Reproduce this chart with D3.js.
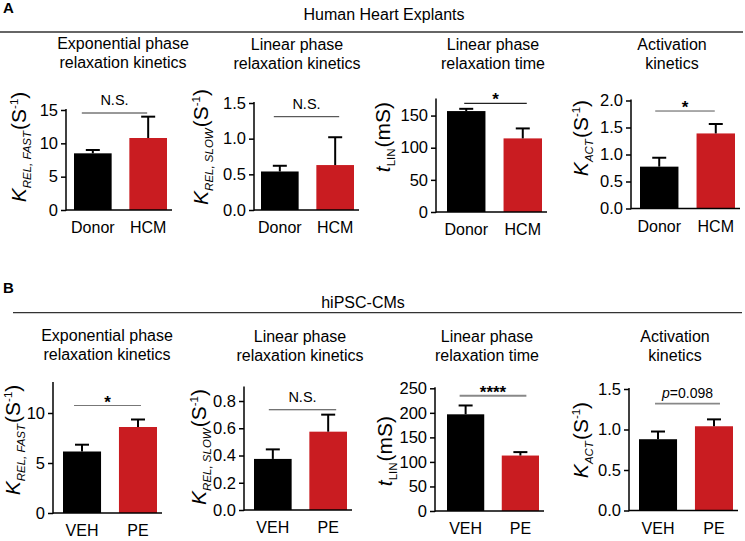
<!DOCTYPE html>
<html>
<head>
<meta charset="utf-8">
<script src="https://cdn.jsdelivr.net/npm/d3@7"></script>
<style>
  html, body { margin: 0; padding: 0; background: #fff; }
  svg { display: block; font-family: "Liberation Sans", Arial, sans-serif; }
</style>
</head>
<body>
<svg id="chart" width="745" height="541"></svg>
<script>
// ---------------- DATA ----------------
const sectionTitles = ["Human Heart Explants", "hiPSC-CMs"];
const sectionLetters = ["A", "B"];

const panelTitlesA = [
  ["Exponential phase", "relaxation kinetics"],
  ["Linear phase", "relaxation kinetics"],
  ["Linear phase", "relaxation time"],
  ["Activation", "kinetics"]
];
const panelTitlesB = panelTitlesA;

const groupsA = ["Donor", "HCM"];
const groupsB = ["VEH", "PE"];

// means and upper SEM for each panel: [group0, group1]
const meansA = [[8.5, 10.8], [0.54, 0.63], [157, 114.5], [0.775, 1.39]];
const errsA  = [[0.5, 3.2], [0.08, 0.39], [3.5, 15.5], [0.165, 0.175]];
const meansB = [[6.15, 8.6], [0.375, 0.575], [197, 113], [0.88, 1.04]];
const errsB  = [[0.68, 0.75], [0.07, 0.125], [18, 7], [0.095, 0.085]];

const domainMaxA = [15, 1.5, 175, 2.0];
const domainMaxB = [13, 0.9, 250, 1.5];
const ticksA = [[0, 5, 10, 15], [0, 0.5, 1.0, 1.5], [0, 50, 100, 150], [0, 0.5, 1.0, 1.5, 2.0]];
const ticksB = [[0, 5, 10], [0, 0.2, 0.4, 0.6, 0.8], [0, 50, 100, 150, 200, 250], [0, 0.5, 1.0, 1.5]];
const tickFmtA = ["d", ".1f", "d", ".1f"];
const tickFmtB = ["d", ".1f", "d", ".1f"];

// significance annotations: label and bracket level (data units)
const sigLabelsA = ["N.S.", "N.S.", "*", "*"];
const sigLevelsA = [14.55, 1.308, 169, 1.805];
const sigLabelsB = ["*", "N.S.", "****", "p=0.098"];
const sigLevelsB = [10.75, 0.736, 235, 1.32];

// y-axis labels
const yLabels = [
  { main: "K", sub: "REL, FAST", subItalic: true, unit: "(S", sup: "-1", close: ")" },
  { main: "K", sub: "REL, SLOW", subItalic: true, unit: "(S", sup: "-1", close: ")" },
  { main: "t", sub: "LIN", subItalic: false, unit: "(mS)", sup: "", close: "" },
  { main: "K", sub: "ACT", subItalic: true, unit: "(S", sup: "-1", close: ")" }
];

// ---------------- LAYOUT ----------------
const layoutA = [
  { ax: 66,  y0: 210,   yTop: 110,   b0: 74,  b1: 167, lx: 26,  ly: 147, tx: 123, t1: 49, sx0: -11, sx1: -1 },
  { ax: 254, y0: 210,   yTop: 103,   b0: 261, b1: 354, lx: 208, ly: 147, tx: 297, t1: 50, sx0: -6,  sx1: 4 },
  { ax: 436, y0: 212,   yTop: 99.5,  b0: 447, b1: 542, lx: 390, ly: 137, tx: 493, t1: 50, sx0: -2,  sx1: 4 },
  { ax: 631, y0: 208.5, yTop: 100.5, b0: 640, b1: 735, lx: 588, ly: 138, tx: 672, t1: 50, sx0: -4,  sx1: -1 }
];
const layoutB = [
  { ax: 53,  y0: 513,   yTop: 383,   b0: 63,  b1: 157, lx: 20,  ly: 440, tx: 107, t1: 341, sx0: -8, sx1: 3 },
  { ax: 244, y0: 510,   yTop: 387.4, b0: 254, b1: 347, lx: 206, ly: 447, tx: 300, t1: 342, sx0: -4, sx1: 8 },
  { ax: 435, y0: 511,   yTop: 388.3, b0: 447, b1: 539, lx: 392, ly: 451, tx: 487, t1: 342, sx0: -6, sx1: 6 },
  { ax: 629, y0: 510.5, yTop: 389,   b0: 639, b1: 733, lx: 588, ly: 440, tx: 675, t1: 342, sx0: -3, sx1: 6 }
];

const colors = ["#000000", "#c91c21"];
const svg = d3.select("#chart");

// ---------------- HEADERS ----------------
function header(letter, title, letterY, titleX, titleY, lineY, lineX0, lineX1) {
  svg.append("text").attr("x", 3).attr("y", letterY)
    .attr("font-weight", "bold").attr("font-size", 15).text(letter);
  svg.append("text").attr("x", titleX).attr("y", titleY)
    .attr("text-anchor", "middle").attr("font-size", 16).text(title);
  svg.append("line").attr("x1", lineX0).attr("x2", lineX1)
    .attr("y1", lineY).attr("y2", lineY)
    .attr("stroke", "#333").attr("stroke-width", 1.3);
}
header(sectionLetters[0], sectionTitles[0], 13, 384, 19.5, 32, 0, 743);
header(sectionLetters[1], sectionTitles[1], 293, 363, 307.5, 312.7, 13, 742);

// ---------------- PANELS ----------------
function panel(L, titles, groups, means, errs, dmax, ticks, fmt, sigLabel, sigLevel, ylab, sigColor, sigWidth) {
  const g = svg.append("g");
  titles.forEach((t, i) => {
    g.append("text").attr("x", L.tx).attr("y", L.t1 + i * 19)
      .attr("text-anchor", "middle").attr("font-size", 16).text(t);
  });

  const y = d3.scaleLinear().domain([0, dmax]).range([L.y0, L.yTop]);
  const x = d3.scaleBand().domain(groups).range([L.b0, L.b1]).paddingInner(0.32).paddingOuter(0);
  const bw = x.bandwidth();

  g.selectAll("rect.bar").data(groups).enter().append("rect")
    .attr("x", d => x(d)).attr("width", bw)
    .attr("y", (d, i) => y(means[i]))
    .attr("height", (d, i) => y(0) - y(means[i]))
    .attr("fill", (d, i) => colors[i]);

  groups.forEach((d, i) => {
    const cx = x(d) + bw / 2;
    g.append("line").attr("x1", cx).attr("x2", cx)
      .attr("y1", y(means[i])).attr("y2", y(means[i] + errs[i]))
      .attr("stroke", "#000").attr("stroke-width", 2);
    g.append("line").attr("x1", cx - 7).attr("x2", cx + 7)
      .attr("y1", y(means[i] + errs[i])).attr("y2", y(means[i] + errs[i]))
      .attr("stroke", "#000").attr("stroke-width", 2);
  });

  const yAxis = d3.axisLeft(y).tickValues(ticks).tickSizeOuter(0).tickSize(5).tickPadding(3)
    .tickFormat(d3.format(fmt));
  const ya = g.append("g").attr("transform", `translate(${L.ax},0)`).call(yAxis);
  ya.select(".domain").remove();
  ya.append("line").attr("x1", 0).attr("x2", 0).attr("y1", L.yTop - 1).attr("y2", L.y0 + 0.75)
    .attr("stroke", "#000").attr("stroke-width", 1.5);
  ya.selectAll(".tick line").attr("stroke", "#000").attr("stroke-width", 1.5);
  ya.selectAll(".tick text").attr("font-size", 16.5).attr("fill", "#000")
    .attr("font-family", "Liberation Sans, Arial, sans-serif");

  g.append("line").attr("x1", L.ax).attr("x2", L.b1 + 5)
    .attr("y1", L.y0).attr("y2", L.y0).attr("stroke", "#000").attr("stroke-width", 1.5);
  g.selectAll("text.xl").data(groups).enter().append("text")
    .attr("x", d => x(d) + bw / 2).attr("y", L.y0 + 23)
    .attr("text-anchor", "middle").attr("font-size", 16).text(d => d);

  const sx0 = x(groups[0]) + bw / 2 + L.sx0;
  const sx1 = x(groups[1]) + bw / 2 + L.sx1;
  const sy = y(sigLevel);
  g.append("line").attr("x1", sx0).attr("x2", sx1).attr("y1", sy).attr("y2", sy)
    .attr("stroke", sigColor).attr("stroke-width", sigWidth);
  const mid = (sx0 + sx1) / 2;
  if (sigLabel.startsWith("p=")) {
    const t = g.append("text").attr("x", mid).attr("y", sy - 6)
      .attr("text-anchor", "middle").attr("font-size", 14);
    t.append("tspan").attr("font-style", "italic").text("p");
    t.append("tspan").text(sigLabel.slice(1));
  } else if (sigLabel.startsWith("*")) {
    g.append("text").attr("x", mid).attr("y", sy + 2)
      .attr("text-anchor", "middle").attr("font-size", 17).attr("font-weight", "bold").text(sigLabel);
  } else {
    g.append("text").attr("x", mid).attr("y", sy - 8)
      .attr("text-anchor", "middle").attr("font-size", 14.5).text(sigLabel);
  }

  const yl = g.append("text")
    .attr("transform", `translate(${L.lx},${L.ly}) rotate(-90)`)
    .attr("text-anchor", "middle").attr("font-size", 21);
  yl.append("tspan").attr("font-style", "italic").text(ylab.main);
  yl.append("tspan").attr("font-size", 11.5).attr("dy", 5)
    .attr("font-style", ylab.subItalic ? "italic" : "normal").text(ylab.sub);
  yl.append("tspan").attr("dy", -5).attr("dx", 1).text(ylab.unit);
  if (ylab.sup) {
    yl.append("tspan").attr("font-size", 11.5).attr("dy", -8).text(ylab.sup);
    yl.append("tspan").attr("dy", 8).text(ylab.close);
  }
}

const sigStyleA = [["#333", 1], ["#333", 1], ["#222", 1.2], ["#555", 1]];
const sigStyleB = [["#777", 1.2], ["#444", 1.2], ["#888", 2], ["#888", 1.6]];

for (let i = 0; i < 4; i++) {
  panel(layoutA[i], panelTitlesA[i], groupsA, meansA[i], errsA[i], domainMaxA[i], ticksA[i], tickFmtA[i],
        sigLabelsA[i], sigLevelsA[i], yLabels[i], sigStyleA[i][0], sigStyleA[i][1]);
  panel(layoutB[i], panelTitlesB[i], groupsB, meansB[i], errsB[i], domainMaxB[i], ticksB[i], tickFmtB[i],
        sigLabelsB[i], sigLevelsB[i], yLabels[i], sigStyleB[i][0], sigStyleB[i][1]);
}
</script>
</body>
</html>
